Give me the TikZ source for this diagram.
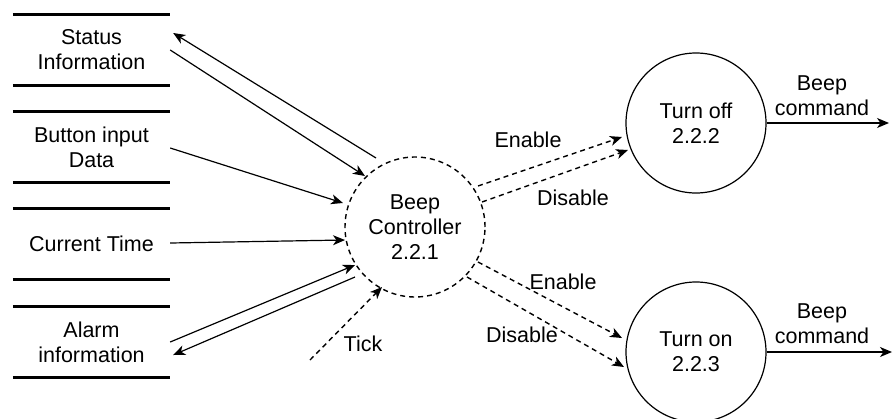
\documentclass[tikz,border=0pt]{standalone}
\usepackage{fontspec}
\setmainfont{Liberation Sans}
\usetikzlibrary{arrows.meta,calc}
\begin{document}
\begin{tikzpicture}[x=1pt,y=-1pt,
  every node/.style={font=\fontsize{21.5}{25}\selectfont, align=center, inner sep=0pt},
  store/.style={minimum width=157pt, minimum height=70pt},
  storeline/.style={line width=3pt},
  proc/.style={circle, draw, line width=1.2pt, minimum size=140pt},
  dproc/.style={proc, line width=1.4pt, dash pattern=on 5pt off 4pt},
  flow/.style={line width=1.2pt, -{Stealth[length=12pt,width=10pt,inset=3.5pt]}},
  dflow/.style={flow, line width=1.4pt, dash pattern=on 5pt off 4pt}]
\clip (0,0) rectangle (893,418);

% data stores
\node[store] (status) at (91.5,50) {Status\\Information};
\node[store] (button) at (91.5,147) {Button input\\Data};
\node[store] (ctime) at (91.5,244) {Current Time};
\node[store] (alarm) at (91.5,342) {Alarm\\information};
\foreach \s in {status,button,ctime,alarm}{
  \draw[storeline] (\s.north west) -- (\s.north east);
  \draw[storeline] (\s.south west) -- (\s.south east);
}

% processes
\node[dproc] (ctrl) at (415,227) {Beep\\Controller\\2.2.1};
\node[proc] (off) at (696,123) {Turn off\\2.2.2};
\node[proc] (on) at (696,352) {Turn on\\2.2.3};

\coordinate (tickstart) at (310,360);
\coordinate (out1) at (889,123);
\coordinate (out2) at (892,352);

% flows with stores
\draw[flow] ($(ctrl)+(-39,-69)$) -- ($(status.east)+(3,-17)$);
\draw[flow] ($(status.east)+(0,0)$) -- ($(ctrl)+(-50,-51)$);
\draw[flow] ($(button.east)+(0,1)$) -- ($(ctrl)+(-72,-24)$);
\draw[flow] ($(ctime.east)+(0,-1)$) -- ($(ctrl)+(-70,13)$);
\draw[flow] ($(alarm.east)+(0,0)$) -- ($(ctrl)+(-60,38)$);
\draw[flow] ($(ctrl)+(-60,50)$) -- ($(alarm.east)+(3,13)$);

% tick
\draw[dflow] (tickstart) -- ($(ctrl)+(-33,60)$);
\node at (363,344) {Tick};

% enable / disable
\draw[dflow] ($(ctrl)+(63,-41)$) -- ($(off)+(-74,14)$);
\draw[dflow] ($(ctrl)+(67,-25)$) -- ($(off)+(-68,27)$);
\draw[dflow] ($(ctrl)+(63,35)$) -- ($(on)+(-74,-14)$);
\draw[dflow] ($(ctrl)+(52,50)$) -- ($(on)+(-72,15)$);
\node at (528,140) {Enable};
\node at (573,198) {Disable};
\node at (563,282) {Enable};
\node at (522,335) {Disable};

% outputs
\draw[flow] (off.east) -- (out1);
\draw[flow] (on.east) -- (out2);
\node at (822,96) {Beep\\command};
\node at (822,324) {Beep\\command};
\end{tikzpicture}
\end{document}
